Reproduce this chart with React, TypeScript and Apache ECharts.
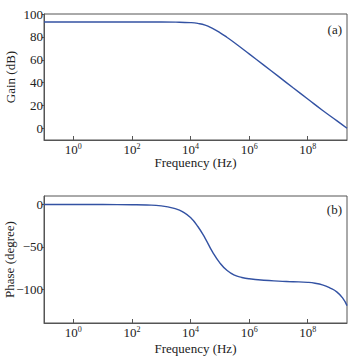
import React, { useEffect, useRef } from "react";
import * as echarts from "echarts";

// Frequency given as log10(f / Hz)
const gainFreqExp = [-1, 0, 1, 2, 3, 3.5, 4, 4.25, 4.5, 4.75, 5, 5.25, 5.5, 6, 6.5, 7, 7.5, 8, 8.5, 9, 9.34];
const gainDb = [93, 93, 93, 93, 93, 92.9, 92.5, 91.8, 90.3, 87.4, 83.8, 79.5, 74.9, 65.2, 55.4, 45.5, 35.6, 25.8, 16, 6.7, 0.2];

const phaseFreqExp = [-1, 0, 1, 2, 2.5, 3, 3.5, 3.75, 4, 4.25, 4.5, 4.75, 5, 5.25, 5.5, 5.75, 6, 6.5, 7, 7.5, 8, 8.25, 8.5, 8.75, 9, 9.2, 9.34];
const phaseDeg = [0, 0, -0.1, -0.3, -0.6, -1.6, -5.2, -9, -15.5, -26, -40, -56, -69, -78, -83.5, -86.2, -87.8, -89.5, -90.5, -91.2, -92, -93, -95, -98.5, -103.5, -111, -119.5];

const freqTicks = [0, 2, 4, 6, 8];
const gainTicks = [0, 20, 40, 60, 80, 100];
const phaseTicks = [-100, -50, 0];

const FONT = "Liberation Serif";
const LINE = "#3352a3";
const AX = "#555";

export default function App() {
  const ref = useRef<HTMLDivElement>(null);
  useEffect(() => {
    if (!ref.current) return;
    const chart = echarts.init(ref.current, null, { renderer: "svg" });
    const xBase = (gridIndex: number, gap: number) => ({
      type: "value",
      gridIndex,
      min: -1,
      max: 9.34,
      name: "Frequency (Hz)",
      nameLocation: "middle",
      nameGap: gap,
      nameMoveOverlap: false,
      nameTextStyle: { fontFamily: FONT, fontSize: 13, color: "#222" },
      axisLine: { show: true, onZero: false, lineStyle: { color: AX, width: 1 } },
      axisTick: { show: true, inside: true, length: 4, customValues: freqTicks, lineStyle: { color: AX } },
      axisLabel: {
        customValues: freqTicks,
        margin: 2,
        formatter: (v: number) => `{b|10}{s|${v}}`,
        rich: {
          b: { fontFamily: FONT, fontSize: 13, color: "#222", lineHeight: 14 },
          s: { fontFamily: FONT, fontSize: 8, color: "#222", verticalAlign: "top", lineHeight: 8 },
        },
      },
      splitLine: { show: false },
    });
    const yBase = (gridIndex: number, min: number, max: number, ticks: number[], name: string, gap: number) => ({
      type: "value",
      gridIndex,
      min,
      max,
      name,
      nameLocation: "middle",
      nameGap: gap,
      nameMoveOverlap: false,
      nameTextStyle: { fontFamily: FONT, fontSize: 13, color: "#222" },
      axisLine: { show: true, onZero: false, lineStyle: { color: AX, width: 1 } },
      axisTick: { show: true, inside: false, length: 2, customValues: ticks, lineStyle: { color: AX } },
      axisLabel: {
        customValues: ticks,
        margin: 1,
        fontFamily: FONT,
        fontSize: 13,
        color: "#222",
        formatter: (v: number) => (v < 0 ? "\u2212" + Math.abs(v) : String(v)),
      },
      splitLine: { show: false },
    });
    chart.setOption({
      animation: false,
      backgroundColor: "#fff",
      grid: [
        { left: 44, top: 14, width: 303, height: 126, show: true, borderColor: AX, borderWidth: 1, containLabel: false, outerBoundsMode: "none" },
        { left: 44, top: 196, width: 303, height: 127, show: true, borderColor: AX, borderWidth: 1, containLabel: false, outerBoundsMode: "none" },
      ],
      xAxis: [xBase(0, 16), xBase(1, 19)],
      yAxis: [
        yBase(0, -10, 100, gainTicks, "Gain (dB)", 27),
        yBase(1, -140, 10, phaseTicks, "Phase (degree)", 28),
      ],
      series: [
        {
          type: "line",
          xAxisIndex: 0,
          yAxisIndex: 0,
          data: gainFreqExp.map((x, i) => [x, gainDb[i]]),
          smooth: true,
          showSymbol: false,
          lineStyle: { color: LINE, width: 1.4 },
        },
        {
          type: "line",
          xAxisIndex: 1,
          yAxisIndex: 1,
          data: phaseFreqExp.map((x, i) => [x, phaseDeg[i]]),
          smooth: true,
          showSymbol: false,
          lineStyle: { color: LINE, width: 1.4 },
        },
      ],
      graphic: [
        { type: "text", right: 19, top: 23, style: { text: "(a)", fontFamily: FONT, fontSize: 13, fill: "#222" } },
        { type: "text", right: 19, top: 203, style: { text: "(b)", fontFamily: FONT, fontSize: 13, fill: "#222" } },
      ],
    });
    return () => chart.dispose();
  }, []);
  return <div ref={ref} style={{ width: 361, height: 361, position: "absolute", left: 0, top: 0 }} />;
}
